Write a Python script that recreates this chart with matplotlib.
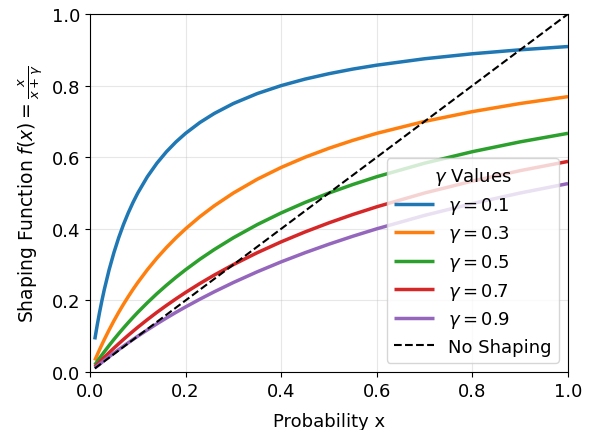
import matplotlib
matplotlib.use("Agg")
import matplotlib.pyplot as plt

x_vals = [0.01, 0.015, 0.02, 0.025, 0.03, 0.04, 0.05, 0.06, 0.07, 0.08, 0.09, 0.10,
          0.12, 0.14, 0.16, 0.18, 0.20, 0.23, 0.26, 0.30, 0.35, 0.40, 0.45, 0.50,
          0.55, 0.60, 0.70, 0.80, 0.90, 1.00]
gammas = [0.1, 0.3, 0.5, 0.7, 0.9]
y_g01 = [0.0909, 0.1304, 0.1667, 0.2, 0.2308, 0.2857, 0.3333, 0.375, 0.4118, 0.4444,
         0.4737, 0.5, 0.5455, 0.5833, 0.6154, 0.6429, 0.6667, 0.6970, 0.7222, 0.75,
         0.7778, 0.8, 0.8182, 0.8333, 0.8462, 0.8571, 0.875, 0.8889, 0.9, 0.9091]
y_g03 = [0.0323, 0.0476, 0.0625, 0.0769, 0.0909, 0.1176, 0.1429, 0.1667, 0.1892, 0.2105,
         0.2308, 0.25, 0.2857, 0.3182, 0.3478, 0.375, 0.4, 0.4340, 0.4643, 0.5,
         0.5385, 0.5714, 0.6, 0.625, 0.6471, 0.6667, 0.7, 0.7273, 0.75, 0.7692]
y_g05 = [0.0196, 0.0291, 0.0385, 0.0476, 0.0566, 0.0741, 0.0909, 0.1071, 0.1228, 0.1379,
         0.1525, 0.1667, 0.1935, 0.2188, 0.2424, 0.2647, 0.2857, 0.3151, 0.3421, 0.375,
         0.4118, 0.4444, 0.4737, 0.5, 0.5238, 0.5455, 0.5833, 0.6154, 0.6429, 0.6667]
y_g07 = [0.0141, 0.0210, 0.0278, 0.0345, 0.0411, 0.0541, 0.0667, 0.0789, 0.0909, 0.1026,
         0.1139, 0.125, 0.1463, 0.1667, 0.1860, 0.2045, 0.2222, 0.2473, 0.2708, 0.3,
         0.3333, 0.3636, 0.3913, 0.4167, 0.44, 0.4615, 0.5, 0.5333, 0.5625, 0.5882]
y_g09 = [0.0110, 0.0164, 0.0217, 0.0270, 0.0323, 0.0426, 0.0526, 0.0625, 0.0722, 0.0816,
         0.0909, 0.1, 0.1176, 0.1346, 0.1509, 0.1667, 0.1818, 0.2035, 0.2241, 0.25,
         0.28, 0.3077, 0.3333, 0.3571, 0.3793, 0.4, 0.4375, 0.4706, 0.5, 0.5263]
series = [y_g01, y_g03, y_g05, y_g07, y_g09]
diag_x = [0.01, 1.0]
diag_y = [0.01, 1.0]
colors = ["#1f77b4", "#ff7f0e", "#2ca02c", "#d62728", "#9467bd"]

fig = plt.figure(figsize=(5.96, 4.31), dpi=100)
ax = fig.add_axes([90/596, 1 - 373/431, (568-90)/596, (373-15)/431])

for g, ys, c in zip(gammas, series, colors):
    ax.plot(x_vals, ys, color=c, lw=2.5, label=rf"$\gamma = {g}$",
            solid_joinstyle="round", solid_capstyle="butt")
ax.plot(diag_x, diag_y, "k--", lw=1.5, label="No Shaping")

ax.set_xlim(0, 1)
ax.set_ylim(0, 1)
ax.set_xticks([0, 0.2, 0.4, 0.6, 0.8, 1.0])
ax.set_yticks([0, 0.2, 0.4, 0.6, 0.8, 1.0])
ax.tick_params(labelsize=13)
ax.grid(True, alpha=0.3)
ax.set_xlabel("Probability x", fontsize=13, labelpad=9)
ax.set_ylabel(r"Shaping Function $f(x) = \frac{x}{x + \gamma}$", fontsize=13.5)
leg = ax.legend(title=r"$\gamma$ Values", fontsize=13, title_fontsize=13,
                loc="lower right", handlelength=2.2, labelspacing=0.42)

fig.savefig("out.png", dpi=100)
